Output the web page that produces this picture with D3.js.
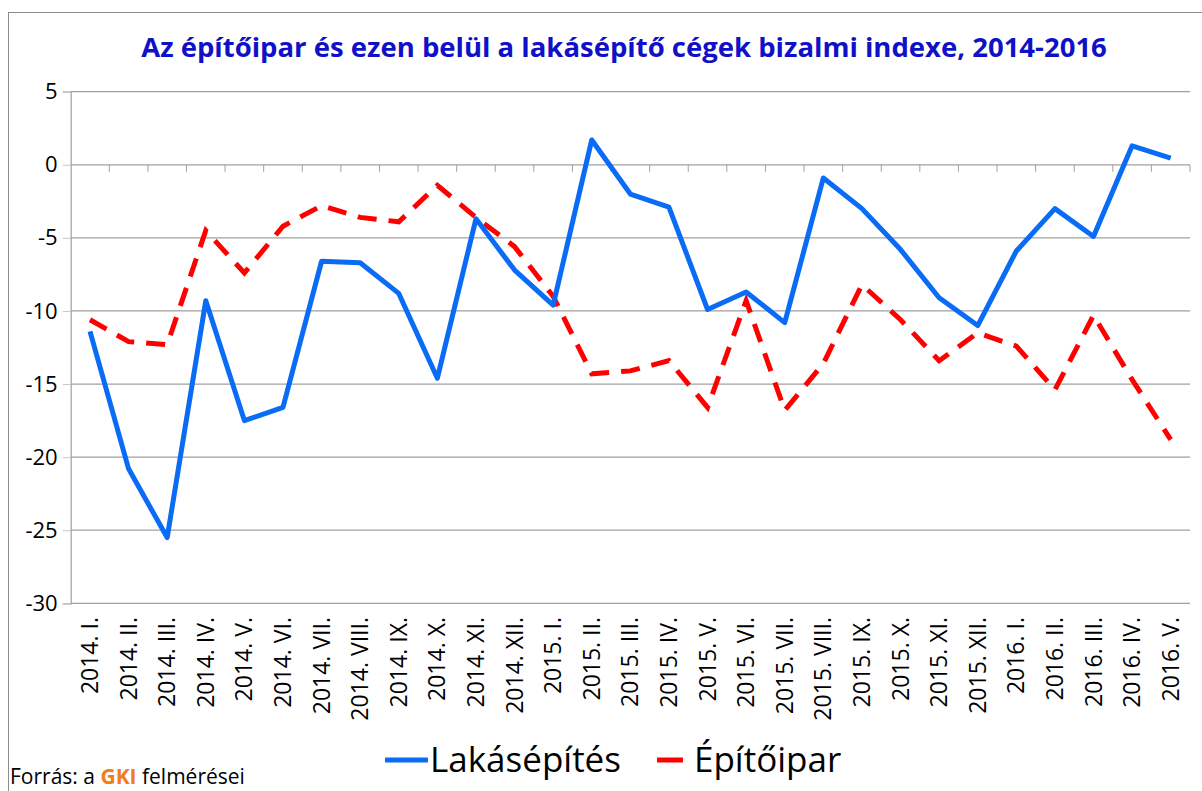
<!DOCTYPE html>
<html>
<head>
<meta charset="utf-8">
<script src="https://cdn.jsdelivr.net/npm/d3@7"></script>
<style>
  body { margin: 0; background: #fff; }
  svg { display: block; }
  text { font-family: "Open Sans", "Noto Sans", sans-serif; }
</style>
</head>
<body>
<svg id="chart" width="1202" height="791"></svg>
<script>
var months = ['2014. I.','2014. II.','2014. III.','2014. IV.','2014. V.','2014. VI.','2014. VII.','2014. VIII.','2014. IX.','2014. X.','2014. XI.','2014. XII.',
              '2015. I.','2015. II.','2015. III.','2015. IV.','2015. V.','2015. VI.','2015. VII.','2015. VIII.','2015. IX.','2015. X.','2015. XI.','2015. XII.',
              '2016. I.','2016. II.','2016. III.','2016. IV.','2016. V.'];

var lakasepites = [-11.4, -20.8, -25.5, -9.3, -17.5, -16.6, -6.6, -6.7, -8.8, -14.6, -3.7, -7.2,
                   -9.6, 1.7, -2.0, -2.9, -9.9, -8.7, -10.8, -0.9, -3.0, -5.8, -9.1, -11.0,
                   -5.9, -3.0, -4.9, 1.3, 0.45];

var epitoipar = [-10.6, -12.1, -12.3, -4.5, -7.4, -4.2, -2.8, -3.6, -3.9, -1.4, -3.6, -5.6,
                 -9.0, -14.3, -14.1, -13.4, -16.6, -9.3, -16.8, -13.6, -8.2, -10.6, -13.4, -11.5,
                 -12.4, -15.4, -10.3, -14.7, -18.8];

var yTicks = [5, 0, -5, -10, -15, -20, -25, -30];
var titleText = 'Az építőipar és ezen belül a lakásépítő cégek bizalmi indexe, 2014-2016';

var svg = d3.select('#chart');

// plot box (note: "top" is taken by window.top, so use other names)
var plotLeft = 70.7, plotRight = 1190, plotTop = 91.7, plotBottom = 603.3;

var x = d3.scaleBand().domain(months).range([plotLeft, plotRight]);
var y = d3.scaleLinear().domain([-30, 5]).range([plotBottom, plotTop]);

// outer frame of the chart area
svg.append('rect')
  .attr('x', 8.5).attr('y', 12.5)
  .attr('width', 1210).attr('height', 800)
  .attr('fill', 'none')
  .attr('stroke', '#8c8c8c')
  .attr('stroke-width', 1);

svg.append('text')
  .attr('x', 624).attr('y', 57)
  .attr('text-anchor', 'middle')
  .attr('font-size', '27.5px')
  .attr('font-weight', 'bold')
  .attr('fill', '#1010c8')
  .text(titleText);

// horizontal grid
svg.append('g')
  .selectAll('line')
  .data(yTicks).enter()
  .append('line')
  .attr('x1', plotLeft).attr('x2', plotRight)
  .attr('y1', function(d){ return y(d); })
  .attr('y2', function(d){ return y(d); })
  .attr('stroke', '#a0a0a0')
  .attr('stroke-width', 1.2);

// y axis (plain hyphen for negatives, like the original)
var yAxis = svg.append('g')
  .attr('transform', 'translate(' + plotLeft + ',0)')
  .call(d3.axisLeft(y).tickValues(yTicks).tickSize(8).tickPadding(5)
    .tickFormat(function(d){ return String(d); }));
yAxis.select('.domain').attr('stroke', '#a0a0a0').attr('stroke-width', 1.2);
yAxis.selectAll('.tick line').attr('stroke', '#c8c8c8');
yAxis.selectAll('.tick text')
  .attr('font-size', '22px')
  .attr('fill', '#000')
  .attr('font-family', '"Open Sans", sans-serif');

// x axis sits on the zero line, ticks between categories
var boundaries = months.map(function(m){ return x(m); }).concat([plotRight]);
svg.append('g')
  .selectAll('line')
  .data(boundaries.slice(1)).enter()
  .append('line')
  .attr('x1', function(d){ return d; })
  .attr('x2', function(d){ return d; })
  .attr('y1', y(0)).attr('y2', y(0) + 7)
  .attr('stroke', '#a0a0a0');

// category labels at the bottom, rotated
svg.append('g')
  .selectAll('text')
  .data(months).enter()
  .append('text')
  .attr('transform', function(d){
    return 'translate(' + (x(d) + x.bandwidth() / 2 + 8) + ',' + 617 + ') rotate(-90)';
  })
  .attr('text-anchor', 'end')
  .attr('font-size', '23px')
  .attr('fill', '#000')
  .text(function(d){ return d; });

var line = d3.line()
  .x(function(d, i){ return x(months[i]) + x.bandwidth() / 2; })
  .y(function(d){ return y(d); });

svg.append('path')
  .datum(epitoipar)
  .attr('d', line)
  .attr('fill', 'none')
  .attr('stroke', '#ff0000')
  .attr('stroke-width', 5)
  .attr('stroke-dasharray', '19,12');

svg.append('path')
  .datum(lakasepites)
  .attr('d', line)
  .attr('fill', 'none')
  .attr('stroke', '#0a6cf5')
  .attr('stroke-width', 5)
  .attr('stroke-linejoin', 'round');

// legend
var legend = svg.append('g');
legend.append('line')
  .attr('x1', 385).attr('x2', 428).attr('y1', 760).attr('y2', 760)
  .attr('stroke', '#0a6cf5').attr('stroke-width', 5);
legend.append('text')
  .attr('x', 430).attr('y', 772)
  .attr('font-size', '35px')
  .attr('fill', '#000')
  .text('Lakásépítés');
legend.append('line')
  .attr('x1', 657).attr('x2', 683).attr('y1', 760).attr('y2', 760)
  .attr('stroke', '#ff0000').attr('stroke-width', 5);
legend.append('text')
  .attr('x', 694).attr('y', 772)
  .attr('font-size', '35px')
  .attr('fill', '#000')
  .text('Építőipar');

// source note
var src = svg.append('text')
  .attr('x', 10).attr('y', 784)
  .attr('font-size', '21px')
  .attr('fill', '#000');
src.append('tspan').text('Forrás: a ');
src.append('tspan').attr('fill', '#f07c1c').attr('font-weight', 'bold').text('GKI');
src.append('tspan').text(' felmérései');
</script>
</body>
</html>
